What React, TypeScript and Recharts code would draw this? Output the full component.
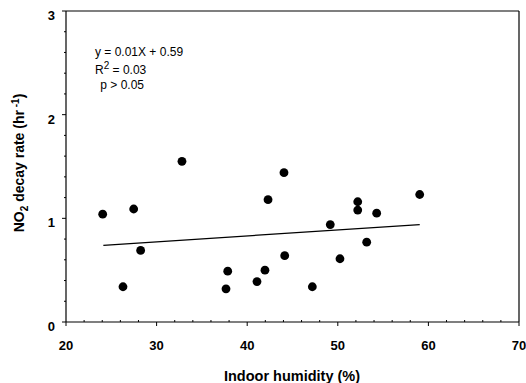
import { ScatterChart, Scatter, XAxis, YAxis, ReferenceLine } from "recharts";

// indoor humidity (%) vs NO2 decay rate (hr-1)
const humidity = [24.05, 27.47, 28.24, 26.29, 32.8, 37.85, 37.66, 41.08, 41.96, 42.3, 44.06, 52.2, 59.04, 52.2, 54.29, 49.17, 53.19, 44.14, 50.24, 47.19];
const decayRate = [1.04, 1.09, 0.69, 0.34, 1.55, 0.49, 0.32, 0.39, 0.5, 1.18, 1.44, 1.16, 1.23, 1.08, 1.05, 0.94, 0.77, 0.64, 0.61, 0.34];

// regression line end points
const fitX = [24.12, 59.04];
const fitY = [0.74, 0.94];

const xTicks = [20, 22, 24, 26, 28, 30, 32, 34, 36, 38, 40, 42, 44, 46, 48, 50, 52, 54, 56, 58, 60, 62, 64, 66, 68, 70];
const yTicks = [0, 0.2, 0.4, 0.6, 0.8, 1, 1.2, 1.4, 1.6, 1.8, 2, 2.2, 2.4, 2.6, 2.8, 3];

const points = humidity.map((x, i) => ({ x, y: decayRate[i] }));
const fitData = fitX.map((x, i) => ({ x, y: fitY[i] }));

const FONT = "'Liberation Sans', Arial, Helvetica, sans-serif";

const XTick = (props: any) => {
  const { x, y, payload } = props;
  const major = Math.round(payload.value) % 10 === 0;
  return (
    <g>
      {major ? (
        <line x1={x} x2={x} y1={y} y2={y + 4} stroke="#000" />
      ) : (
        <line x1={x} x2={x} y1={y} y2={y - 2} stroke="#000" />
      )}
      {major && (
        <text x={x} y={y + 28} textAnchor="middle" fontFamily={FONT} fontWeight="bold" fontSize={13} fill="#000">
          {payload.value}
        </text>
      )}
    </g>
  );
};

const YTick = (props: any) => {
  const { x, y, payload } = props;
  const v = Math.round(payload.value * 10) / 10;
  const major = Number.isInteger(v);
  return (
    <g>
      <line x1={x} x2={x - (major ? 4 : 2)} y1={y} y2={y} stroke="#000" />
      {major && (
        <text x={x - 11} y={y + 9} textAnchor="end" fontFamily={FONT} fontWeight="bold" fontSize={13} fill="#000">
          {v}
        </text>
      )}
    </g>
  );
};

const YLabel = () => (
  <text transform="translate(24,163) rotate(-90)" textAnchor="middle" fontFamily={FONT} fontWeight="bold" fontSize={14} fill="#000">
    NO<tspan dy={4} fontSize={10}>2</tspan>
    <tspan dy={-4}> decay rate (hr</tspan>
    <tspan dy={-5} fontSize={10}> -1</tspan>
    <tspan dy={5}>)</tspan>
  </text>
);

const XLabel = () => (
  <text x={292} y={381} textAnchor="middle" fontFamily={FONT} fontWeight="bold" fontSize={14.5} fill="#000">
    Indoor humidity (%)
  </text>
);

export default function App() {
  return (
    <div style={{ position: "absolute", left: 0, top: 0, width: 526, height: 383, background: "#fff" }}>
      <ScatterChart width={526} height={383} margin={{ top: 11, right: 7, bottom: 0, left: 0 }}>
        <XAxis
          type="number"
          dataKey="x"
          domain={[20, 70]}
          ticks={xTicks}
          interval={0}
          height={61}
          tickSize={0}
          tickMargin={0}
          tickLine={false}
          tick={<XTick />}
          axisLine={{ stroke: "#000", strokeWidth: 1.2 }}
          label={{ content: () => <XLabel /> }}
        />
        <YAxis
          type="number"
          dataKey="y"
          domain={[0, 3]}
          ticks={yTicks}
          interval={0}
          width={66}
          tickSize={0}
          tickMargin={0}
          tickLine={false}
          tick={<YTick />}
          axisLine={{ stroke: "#000", strokeWidth: 1.2 }}
          label={{ content: () => <YLabel /> }}
        />
        <ReferenceLine y={3} stroke="#000" strokeWidth={1.2} />
        <ReferenceLine x={70} stroke="#000" strokeWidth={1.2} />
        <Scatter
          data={fitData}
          line={{ stroke: "#000", strokeWidth: 1.2 }}
          shape={() => <g />}
          isAnimationActive={false}
        />
        <Scatter
          data={points}
          shape={(p: any) => <circle cx={p.cx} cy={p.cy} r={4.4} fill="#000" />}
          isAnimationActive={false}
        />
      </ScatterChart>
      <div style={{ position: "absolute", left: 95, top: 45, fontFamily: FONT, fontSize: 12, lineHeight: "15px", color: "#000", whiteSpace: "pre" }}>
        <div>y = 0.01X + 0.59</div>
        <div style={{ marginTop: 3 }}>
          R<sup style={{ fontSize: 10, lineHeight: 0 }}>2</sup> = 0.03
        </div>
        <div style={{ marginLeft: 2 }}> p &gt; 0.05</div>
      </div>
    </div>
  );
}
